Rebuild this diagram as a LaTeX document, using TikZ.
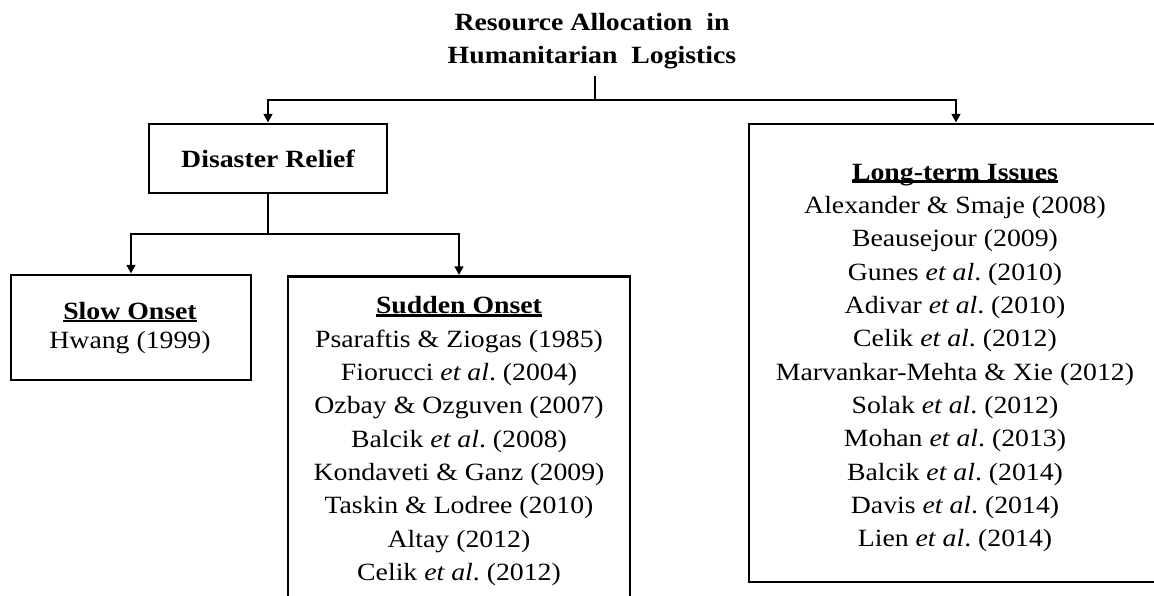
\documentclass[tikz,border=0pt]{standalone}
\usepackage{fontspec}
\setmainfont{Liberation Serif}[FakeStretch=1.12]
\usetikzlibrary{arrows.meta}
\frenchspacing
% bold heading with a close, heavy underline
\newcommand\headline[1]{\textbf{\setbox0\hbox{#1}\rlap{\rule[-2pt]{\wd0}{1.8pt}}\box0}}
\begin{document}
\begin{tikzpicture}[x=0.75pt,y=-0.75pt,
  txt/.style={font=\fontsize{18.6pt}{25pt}\selectfont, align=center, inner sep=0pt},
  boxed/.style={draw, line width=2.2pt, inner sep=0pt},
  conn/.style={line width=2pt},
  arr/.style={conn, -{Triangle[length=6.5pt,width=6.5pt]}}]
\useasboundingbox (0,0) rectangle (1154,596);
\clip (0,0) rectangle (1154,596);
\fill[white] (0,0) rectangle (1154,596);

% root heading (multi-line nodes are placed by the baseline of their last line)
\node[txt, font=\fontsize{18.6pt}{24.5pt}\selectfont\bfseries, anchor=base, inner ysep=5pt]
  (title) at (592,63.5) {Resource Allocation\ \ in\\Humanitarian\ \ Logistics};

% boxes
\node[boxed, txt, font=\fontsize{18.6pt}{25pt}\selectfont\bfseries,
  minimum width=178.5pt, minimum height=51.75pt] (dr) at (268,158.5) {Disaster Relief};
\node[boxed, minimum width=180pt, minimum height=78.75pt] (slow) at (131,327.5) {};
\node[boxed, minimum width=256.5pt, minimum height=318.75pt, anchor=north] (sudden) at (459,275) {};
\node[boxed, minimum width=310.5pt, minimum height=343.5pt] (lt) at (956,353) {};

% box contents
\node[txt, font=\fontsize{18.6pt}{21.75pt}\selectfont, anchor=base] (slowtext) at (130,348.5)
  {\headline{Slow Onset}\\Hwang (1999)};
\node[txt, anchor=base] (suddentext) at (459,580.5)
  {\headline{Sudden Onset}\\
   Psaraftis \& Ziogas (1985)\\
   Fiorucci \textit{et al}. (2004)\\
   Ozbay \& Ozguven (2007)\\
   Balcik \textit{et al}. (2008)\\
   Kondaveti \& Ganz (2009)\\
   Taskin \& Lodree (2010)\\
   Altay (2012)\\
   Celik \textit{et al}. (2012)};
\node[txt, anchor=base] (lttext) at (955,546.7)
  {\headline{Long-term Issues}\\
   Alexander \& Smaje (2008)\\
   Beausejour (2009)\\
   Gunes \textit{et al}. (2010)\\
   Adivar \textit{et al}. (2010)\\
   Celik \textit{et al}. (2012)\\
   Marvankar-Mehta \& Xie (2012)\\
   Solak \textit{et al}. (2012)\\
   Mohan \textit{et al}. (2013)\\
   Balcik \textit{et al}. (2014)\\
   Davis \textit{et al}. (2014)\\
   Lien \textit{et al}. (2014)};

% connectors
\coordinate (hub) at (595,100);
\coordinate (fork) at (268,234);
\draw[conn] (title.south -| hub) -- (hub);
\draw[arr] (hub) -| (dr.north);
\draw[arr] (hub) -| (lt.north);
\draw[conn] (dr.south) -- (fork);
\draw[arr] (fork) -| (slow.north);
\draw[arr] (fork) -| (sudden.north);
\end{tikzpicture}
\end{document}
